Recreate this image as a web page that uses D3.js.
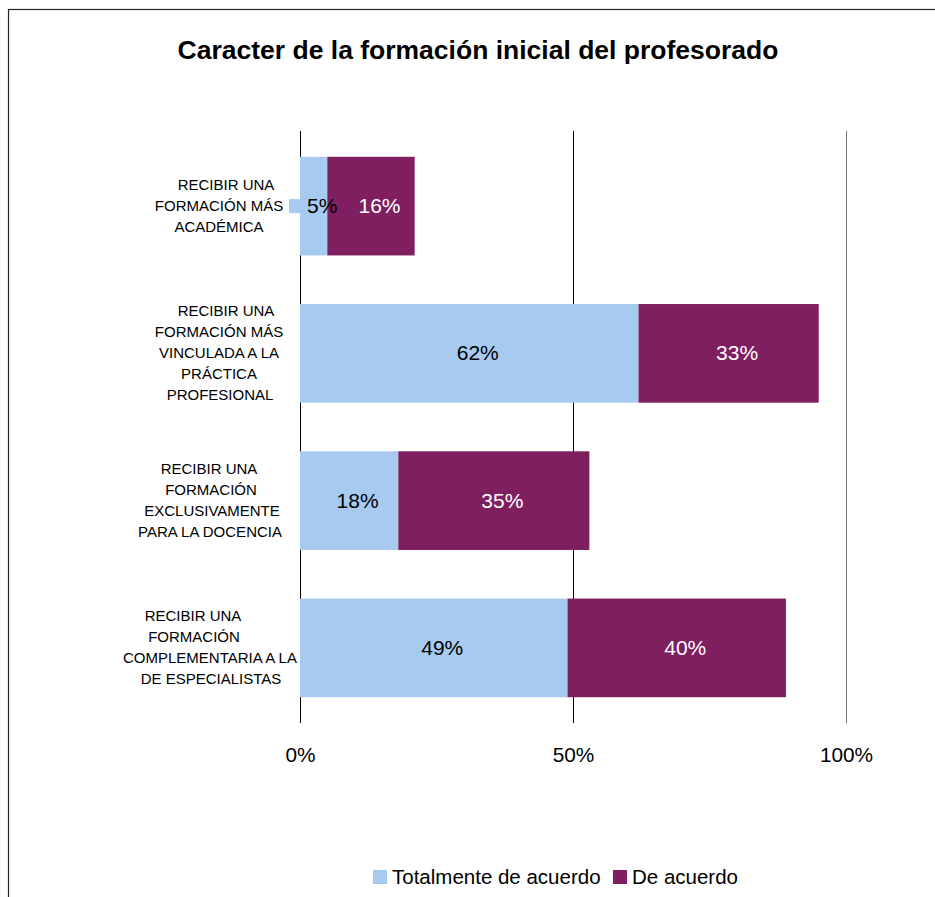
<!DOCTYPE html>
<html>
<head>
<meta charset="utf-8">
<script src="https://cdn.jsdelivr.net/npm/d3@7/dist/d3.min.js"></script>
<style>
  html, body { margin: 0; padding: 0; background: #fff; }
  svg { display: block; font-family: "Liberation Sans", Arial, sans-serif; }
</style>
</head>
<body>
<svg id="chart" width="935" height="897"></svg>
<script>
const title = "Caracter de la formación inicial del profesorado";
const categories = [
  ["RECIBIR UNA", "FORMACIÓN MÁS", "ACADÉMICA"],
  ["RECIBIR UNA", "FORMACIÓN MÁS", "VINCULADA A LA", "PRÁCTICA", "PROFESIONAL"],
  ["RECIBIR UNA", "FORMACIÓN", "EXCLUSIVAMENTE", "PARA LA DOCENCIA"],
  ["RECIBIR UNA", "FORMACIÓN", "COMPLEMENTARIA A LA", "DE ESPECIALISTAS"]
];
const seriesNames = ["Totalmente de acuerdo", "De acuerdo"];
const totalmente = [5, 62, 18, 49];
const deAcuerdo = [16, 33, 35, 40];
const tickValues = [0, 50, 100];
const tickLabels = ["0%", "50%", "100%"];

const colors = ["#A7CAF0", "#7F1F5F"];
const labelColors = ["#000", "#fff"];

const svg = d3.select("#chart");

// outer border
svg.append("rect")
  .attr("x", 8.5).attr("y", 9.5)
  .attr("width", 1000).attr("height", 1000)
  .attr("fill", "none").attr("stroke", "#222").attr("stroke-width", 1.2);

// title
svg.append("text")
  .attr("x", 478).attr("y", 59)
  .attr("text-anchor", "middle")
  .attr("font-size", 26.5).attr("font-weight", "bold")
  .attr("fill", "#000")
  .text(title);

const x = d3.scaleLinear().domain([0, 100]).range([300.5, 846.5]);
const y = d3.scaleBand().domain(d3.range(categories.length))
  .range([131, 723]).paddingInner(0.33).paddingOuter(0.175);

// gridlines
svg.append("g").selectAll("line").data(tickValues).join("line")
  .attr("x1", d => x(d)).attr("x2", d => x(d))
  .attr("y1", 131).attr("y2", 723)
  .attr("stroke", (d, i) => i === tickValues.length - 1 ? "#777" : "#000")
  .attr("stroke-width", 1);

// tick labels
svg.append("g").selectAll("text").data(tickValues).join("text")
  .attr("x", d => x(d)).attr("y", 762)
  .attr("text-anchor", "middle")
  .attr("font-size", 20.8).attr("fill", "#000")
  .text((d, i) => tickLabels[i]);

// stacked data
const rows = categories.map((c, i) => ({ i, vals: [totalmente[i], deAcuerdo[i]] }));
const segs = [];
rows.forEach(r => {
  let acc = 0;
  r.vals.forEach((v, s) => { segs.push({ i: r.i, s, x0: acc, x1: acc + v, v }); acc += v; });
});

// small label-box artifact left of the first bar
svg.append("rect")
  .attr("x", x(0) - 11.5).attr("y", y(0) + y.bandwidth() / 2 - 7)
  .attr("width", 11).attr("height", 14)
  .attr("fill", colors[0]);

svg.append("g").selectAll("rect").data(segs).join("rect")
  .attr("x", d => x(d.x0) - 0.5)
  .attr("width", d => x(d.x1) - x(d.x0))
  .attr("y", d => y(d.i))
  .attr("height", y.bandwidth())
  .attr("fill", d => colors[d.s]);

svg.append("g").selectAll("text").data(segs).join("text")
  .attr("x", d => (x(d.x0) + x(d.x1)) / 2 + 8)
  .attr("y", d => y(d.i) + y.bandwidth() / 2 + 7)
  .attr("text-anchor", "middle")
  .attr("font-size", 21)
  .attr("fill", d => labelColors[d.s])
  .text(d => d.v + "%");

// category labels
const labelCenters = [
  [226, 219, 219],
  [226, 219, 219, 219, 220],
  [209, 211, 212, 210],
  [193, 194, 210, 211]
];
const lh = 21;
const cg = svg.append("g");
categories.forEach((lines, i) => {
  const cy = y(i) + y.bandwidth() / 2;
  const top = cy - (lines.length - 1) * lh / 2;
  const t = cg.append("text")
    .attr("text-anchor", "middle")
    .attr("font-size", 15).attr("fill", "#000");
  lines.forEach((ln, k) => {
    t.append("tspan")
      .attr("x", labelCenters[i][k])
      .attr("y", top + k * lh + 5)
      .text(ln);
  });
});

// legend
const lg = svg.append("g");
const legendX = [373, 613];
seriesNames.forEach((n, s) => {
  lg.append("rect")
    .attr("x", legendX[s]).attr("y", 870)
    .attr("width", 14).attr("height", 14)
    .attr("fill", colors[s]);
  lg.append("text")
    .attr("x", legendX[s] + 19).attr("y", 884)
    .attr("font-size", 20.5).attr("fill", "#000")
    .text(n);
});
</script>
</body>
</html>
